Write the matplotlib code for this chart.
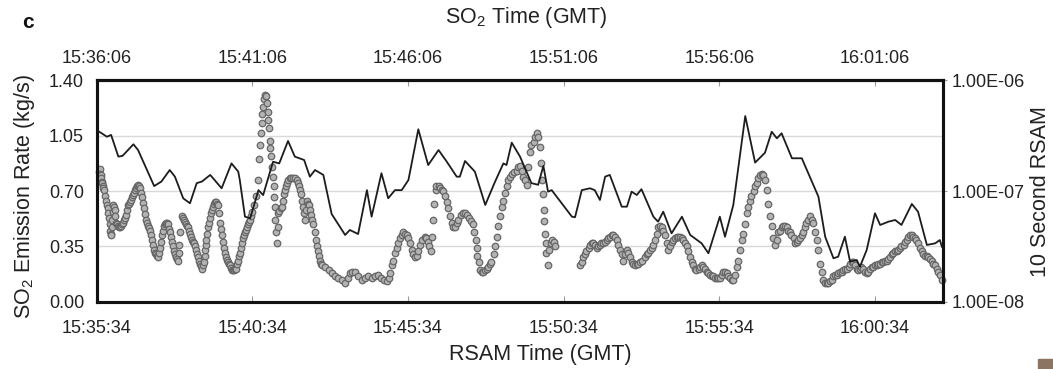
import matplotlib
matplotlib.use("Agg")
import matplotlib.pyplot as plt
from matplotlib.patches import Rectangle
from matplotlib.ticker import NullLocator

plt.rcParams['font.family'] = ['Liberation Sans', 'DejaVu Sans']
plt.rcParams['mathtext.fontset'] = 'custom'
plt.rcParams['mathtext.rm'] = 'Liberation Sans'
plt.rcParams['mathtext.it'] = 'Liberation Sans:italic'

# x axis: seconds after the left edge (RSAM clock 15:35:34, SO2 clock 15:36:06)
tick_sec = [0, 300, 600, 900, 1200, 1500]
rsam_tick_labels = ['15:35:34', '15:40:34', '15:45:34', '15:50:34', '15:55:34', '16:00:34']
so2_tick_labels = ['15:36:06', '15:41:06', '15:46:06', '15:51:06', '15:56:06', '16:01:06']
x_end = 1631

so2_yticks = [0.0, 0.35, 0.70, 1.05, 1.40]
so2_ytick_labels = ['0.00', '0.35', '0.70', '1.05', '1.40']
rsam_yticks = [1e-8, 1e-7, 1e-6]
rsam_ytick_labels = ['1.00E-08', '1.00E-07', '1.00E-06']

# 10 second RSAM (seconds after 15:35:34)
rsam_time = [0, 20, 28, 42, 50, 71, 80, 111, 125, 141, 151, 167, 180, 193, 203, 219,
             241, 260, 273, 276, 286, 296, 312, 321, 340, 352, 369, 382, 400, 411,
             421, 437, 453, 479, 488, 504, 521, 530, 549, 562, 575, 588, 601, 620,
             639, 659, 675, 694, 700, 710, 729, 749, 768, 784, 790, 800, 816, 838,
             851, 861, 870, 877, 916, 922, 935, 951, 960, 970, 980, 989, 1012, 1022,
             1031, 1041, 1050, 1073, 1082, 1092, 1108, 1128, 1144, 1166, 1179, 1201,
             1211, 1227, 1250, 1269, 1288, 1301, 1311, 1320, 1340, 1359, 1391, 1404,
             1420, 1429, 1442, 1452, 1465, 1471, 1484, 1500, 1510, 1526, 1539, 1551,
             1571, 1583, 1600, 1616, 1625, 1629]
rsam_value = [3.57e-7, 3.10e-7, 3.22e-7, 2.05e-7, 2.08e-7, 2.65e-7, 2.35e-7, 1.11e-7,
              1.22e-7, 1.55e-7, 1.35e-7, 8.6e-8, 7.76e-8, 1.18e-7, 1.22e-7, 1.40e-7,
              1.06e-7, 1.78e-7, 1.50e-7, 1.26e-7, 5.87e-8, 5.68e-8, 1.02e-7, 9.2e-8,
              1.84e-7, 1.78e-7, 2.84e-7, 2.05e-7, 1.91e-7, 1.35e-7, 1.55e-7, 1.40e-7,
              6.21e-8, 4.01e-8, 4.45e-8, 4.09e-8, 1.02e-7, 5.87e-8, 1.45e-7, 8.61e-8,
              1.02e-7, 1.02e-7, 1.26e-7, 3.62e-7, 1.72e-7, 2.35e-7, 1.84e-7, 1.35e-7,
              1.35e-7, 1.87e-7, 1.50e-7, 7.49e-8, 1.22e-7, 1.78e-7, 1.72e-7, 2.74e-7,
              2.05e-7, 1.18e-7, 1.14e-7, 1.69e-7, 9.88e-8, 1.02e-7, 5.87e-8, 5.80e-8,
              1.02e-7, 1.06e-7, 1.02e-7, 8.31e-8, 1.35e-7, 1.40e-7, 7.23e-8, 7.23e-8,
              9.88e-8, 9.22e-8, 1.04e-7, 5.87e-8, 5.29e-8, 6.51e-8, 4.15e-8, 5.87e-8,
              4.01e-8, 3.37e-8, 2.74e-8, 5.87e-8, 3.87e-8, 7.49e-8, 4.77e-7, 1.81e-7,
              2.22e-7, 3.44e-7, 3.00e-7, 3.33e-7, 1.98e-7, 1.98e-7, 8.90e-8, 3.87e-8,
              2.47e-8, 2.55e-8, 3.87e-8, 2.30e-8, 2.38e-8, 2.07e-8, 2.93e-8, 6.30e-8,
              4.94e-8, 5.29e-8, 5.48e-8, 4.94e-8, 7.65e-8, 6.51e-8, 3.26e-8, 3.37e-8,
              3.61e-8, 3.14e-8]

# SO2 emission rate (seconds after 15:36:06, kg/s)
so2_time = [5, 6, 7, 8, 9, 10, 11, 12, 13, 14, 16, 18, 20, 22, 23, 24, 25, 26, 27, 28,
            29, 30, 31, 32, 34, 35, 36, 37, 39, 41, 43, 45, 47, 49, 51, 53, 55, 57, 59,
            61, 63, 64, 66, 68, 70, 72, 74, 76, 78, 80, 82, 84, 86, 87, 89, 91, 93, 95,
            97, 99, 101, 103, 105, 107, 109, 111, 113, 114, 116, 118, 120, 122, 124,
            126, 128, 130, 132, 134, 136, 138, 140, 141, 143, 145, 147, 149, 151, 153,
            155, 157, 158, 159, 161, 165, 167, 168, 170, 172, 174, 176, 178, 180, 182,
            184, 186, 188, 190, 192, 194, 195, 197, 199, 201, 203, 205, 207, 208, 209,
            210, 211, 213, 215, 217, 219, 221, 222, 224, 226, 228, 230, 232, 234, 236,
            238, 240, 242, 244, 246, 248, 249, 251, 253, 255, 257, 259, 261, 263, 265,
            267, 269, 271, 272, 274, 276, 278, 280, 282, 284, 286, 288, 290, 292, 294,
            296, 298, 300,
            303, 307, 311, 313, 315, 317, 318, 319, 321, 323, 325, 327, 329, 330, 331,
            332, 334, 335, 337, 339, 340, 341, 342, 343, 344, 345, 347,
            349, 350, 352, 355, 357, 359, 361, 363, 365, 367, 369, 372, 375, 379, 382,
            386, 388, 390, 392, 394, 396, 398, 400, 402, 404, 406, 408, 409, 411, 413,
            415, 418, 420, 422, 424, 426, 428, 430, 433,
            435, 440, 447, 453, 459, 466, 472, 479, 484, 488, 493, 498, 504, 511, 517,
            524, 530, 537, 543, 549, 554, 559, 563, 565, 569, 572, 575, 578, 581, 585,
            588, 591, 594, 598, 601, 604, 607, 610, 614, 617, 620, 623, 627, 632, 635,
            638, 641, 644, 647, 649, 651, 654, 655, 659, 662, 665, 668, 671, 675, 678,
            681, 684, 687, 691, 694, 697, 702, 706, 710, 714, 718, 722, 726, 728, 731,
            733, 734, 737, 739, 742, 745, 749, 752, 755, 758, 761, 765, 768, 771, 774,
            777, 781, 784, 787, 790, 793, 797, 800, 804, 810, 813, 816, 819, 822, 826,
            829, 832, 835, 838, 842, 845, 848, 851, 854, 856, 859, 861, 862, 863, 864,
            866, 867, 869, 872, 875, 878, 881, 883,
            931, 935, 938, 941, 944, 948, 951, 954, 957, 960, 964, 967, 970, 973, 976,
            980, 983, 986, 989, 993, 996, 999, 1002, 1005, 1009, 1012, 1015, 1018, 1022,
            1025, 1028, 1031, 1034, 1038, 1041, 1044, 1047, 1052, 1056, 1060, 1063,
            1066, 1070, 1073, 1076, 1079, 1082, 1086, 1089, 1092, 1095, 1099, 1102,
            1105, 1108, 1111, 1115, 1118, 1121, 1124, 1128, 1131, 1134, 1137, 1140,
            1143, 1147, 1150, 1153, 1156, 1160, 1163, 1166, 1169, 1172, 1176, 1179,
            1182, 1185, 1188, 1192, 1195, 1198, 1201, 1205, 1208, 1211, 1214, 1217,
            1221, 1224, 1227, 1230, 1234, 1237, 1240, 1243, 1246, 1250, 1253, 1256,
            1259, 1262, 1266, 1269, 1272, 1275, 1278, 1282, 1285, 1288, 1291, 1294,
            1298, 1301, 1304, 1307, 1311, 1314, 1317, 1320, 1323, 1327, 1330, 1333,
            1336, 1339, 1343, 1346, 1349, 1352, 1355, 1359, 1362, 1365, 1368, 1371,
            1375, 1378, 1381, 1384, 1388, 1391, 1394, 1397, 1400, 1404, 1407, 1410,
            1413, 1417, 1420, 1423, 1426, 1429, 1433, 1436, 1439, 1442, 1446, 1449,
            1452, 1455, 1458, 1462, 1465, 1468, 1471, 1474, 1477, 1481, 1484, 1487,
            1490, 1494, 1497, 1500, 1503, 1506, 1510, 1513, 1516, 1519, 1523, 1526,
            1529, 1532, 1535, 1539, 1542, 1545, 1548, 1551, 1555, 1558, 1561, 1564,
            1567, 1571, 1574, 1577, 1580, 1583, 1587, 1590, 1593, 1596, 1600, 1603,
            1606, 1609, 1612, 1616, 1619, 1622, 1625, 1629]
so2_rate = [0.82, 0.84, 0.81, 0.80, 0.78, 0.76, 0.75, 0.73, 0.72, 0.71, 0.67, 0.64, 0.61,
            0.59, 0.56, 0.53, 0.49, 0.45, 0.43, 0.42, 0.47, 0.52, 0.57, 0.61, 0.60, 0.58,
            0.54, 0.50, 0.49, 0.48, 0.47, 0.47, 0.48, 0.49, 0.50, 0.52, 0.53, 0.55, 0.58,
            0.61, 0.62, 0.63, 0.645, 0.66, 0.675, 0.69, 0.705, 0.72, 0.73, 0.74, 0.735,
            0.72, 0.69, 0.66, 0.625, 0.59, 0.555, 0.52, 0.50, 0.48, 0.465, 0.45, 0.42,
            0.39, 0.36, 0.33, 0.31, 0.30, 0.29, 0.28, 0.31, 0.34, 0.38, 0.42, 0.45, 0.48,
            0.49, 0.50, 0.495, 0.49, 0.46, 0.44, 0.41, 0.38, 0.35, 0.32, 0.30, 0.28, 0.27,
            0.26, 0.31, 0.36, 0.44, 0.54, 0.53, 0.52, 0.505, 0.49, 0.48, 0.47, 0.45, 0.43,
            0.41, 0.39, 0.38, 0.37, 0.35, 0.33, 0.30, 0.28, 0.26, 0.24, 0.225, 0.21, 0.23,
            0.25, 0.29, 0.33, 0.36, 0.39, 0.43, 0.47, 0.50, 0.53, 0.56, 0.58, 0.60, 0.62,
            0.63, 0.63, 0.62, 0.61, 0.56, 0.50, 0.46, 0.42, 0.38, 0.34, 0.31, 0.28, 0.265,
            0.25, 0.24, 0.23, 0.215, 0.20, 0.20, 0.20, 0.205, 0.21, 0.24, 0.26, 0.29,
            0.31, 0.34, 0.37, 0.40, 0.42, 0.44, 0.455, 0.47, 0.49, 0.505, 0.52, 0.545,
            0.57,
            0.61, 0.67, 0.77, 0.90, 0.99, 1.07, 1.13, 1.19, 1.23, 1.28, 1.31, 1.30, 1.26,
            1.20, 1.15, 1.10, 1.02, 0.97, 0.92, 0.85, 0.79, 0.73, 0.66, 0.60, 0.52, 0.44,
            0.37,
            0.47, 0.56, 0.575, 0.59, 0.60, 0.64, 0.68, 0.71, 0.73, 0.75, 0.77, 0.78, 0.78,
            0.78, 0.78, 0.77, 0.75, 0.73, 0.71, 0.68, 0.64, 0.60, 0.56, 0.52, 0.58, 0.64,
            0.62, 0.61, 0.58, 0.55, 0.52, 0.49, 0.44, 0.39, 0.35, 0.32, 0.29, 0.26, 0.24,
            0.23, 0.22, 0.20, 0.18, 0.16, 0.15, 0.14, 0.12, 0.15, 0.18, 0.19,
            0.19, 0.16, 0.14, 0.15, 0.16, 0.15, 0.16, 0.17, 0.15, 0.14, 0.13, 0.15, 0.18,
            0.23, 0.26, 0.31, 0.34, 0.37, 0.40, 0.42, 0.44, 0.43, 0.42, 0.40, 0.37, 0.33,
            0.30, 0.28, 0.29, 0.32, 0.36, 0.39, 0.41, 0.40, 0.38, 0.35, 0.32, 0.41, 0.52,
            0.62, 0.71, 0.73, 0.73, 0.72, 0.71, 0.70, 0.67, 0.63, 0.59, 0.54, 0.50, 0.47,
            0.47, 0.50, 0.52, 0.55, 0.56, 0.56, 0.55, 0.53, 0.51, 0.49, 0.44, 0.39, 0.34,
            0.29, 0.25, 0.20, 0.19, 0.19, 0.20, 0.21, 0.22, 0.24, 0.25, 0.30, 0.35, 0.41,
            0.48, 0.54, 0.60, 0.64, 0.69, 0.73, 0.77, 0.79, 0.81, 0.82, 0.83, 0.85, 0.86,
            0.83, 0.79, 0.77, 0.74, 0.85, 0.95, 0.99, 1.01, 1.04, 1.07, 1.04, 0.98, 0.88,
            0.77, 0.68, 0.58, 0.51, 0.43, 0.37, 0.31, 0.23, 0.33, 0.37, 0.39, 0.38, 0.35,
            0.23, 0.25, 0.28, 0.30, 0.32, 0.34, 0.36, 0.37, 0.37, 0.36, 0.34, 0.35, 0.36,
            0.37, 0.37, 0.38, 0.39, 0.40, 0.41, 0.42, 0.42, 0.41, 0.39, 0.36, 0.33, 0.30,
            0.26, 0.30, 0.33, 0.31, 0.28, 0.25, 0.24, 0.23, 0.24, 0.24, 0.25, 0.26, 0.28,
            0.30, 0.31, 0.33, 0.34, 0.36, 0.39, 0.43, 0.47, 0.48, 0.47, 0.45, 0.42, 0.37,
            0.33, 0.35, 0.38, 0.39, 0.40, 0.41, 0.41, 0.41, 0.40, 0.39, 0.37, 0.35, 0.32,
            0.28, 0.25, 0.23, 0.21, 0.20, 0.21, 0.22, 0.23, 0.22, 0.21, 0.19, 0.18, 0.17,
            0.16, 0.16, 0.15, 0.15, 0.15, 0.15, 0.17, 0.19, 0.19, 0.18, 0.16, 0.15, 0.14,
            0.14, 0.17, 0.22, 0.26, 0.33, 0.39, 0.43, 0.49, 0.56, 0.60, 0.64, 0.67, 0.70,
            0.73, 0.75, 0.78, 0.80, 0.81, 0.80, 0.77, 0.71, 0.62, 0.54, 0.48, 0.40, 0.36,
            0.39, 0.44, 0.45, 0.47, 0.48, 0.48, 0.47, 0.45, 0.44, 0.42, 0.40, 0.37, 0.38,
            0.39, 0.40, 0.42, 0.44, 0.47, 0.50, 0.52, 0.54, 0.52, 0.50, 0.44, 0.39, 0.33,
            0.24, 0.19, 0.14, 0.12, 0.12, 0.12, 0.13, 0.14, 0.16, 0.17, 0.17, 0.18, 0.19,
            0.19, 0.20, 0.21, 0.21, 0.22, 0.24, 0.25, 0.25, 0.23, 0.21, 0.20, 0.21, 0.22,
            0.21, 0.19, 0.18, 0.19, 0.21, 0.22, 0.22, 0.23, 0.23, 0.24, 0.24, 0.25, 0.25,
            0.26, 0.26, 0.27, 0.28, 0.30, 0.31, 0.32, 0.32, 0.33, 0.34, 0.35, 0.36, 0.38,
            0.39, 0.41, 0.42, 0.42, 0.41, 0.40, 0.39, 0.37, 0.34, 0.32, 0.30, 0.29, 0.29,
            0.28, 0.27, 0.26, 0.24, 0.23, 0.21, 0.19, 0.17, 0.14]

fig = plt.figure(figsize=(10.53, 3.69), dpi=100)
ax = fig.add_axes([0.0917, 0.1824, 0.8038, 0.5995])

# SO2 as grey rings
ax.scatter(so2_time, so2_rate, s=22, facecolor='#b3b3b3', edgecolor='#666666',
           linewidth=0.9, zorder=3, clip_on=False)
ax.set_xlim(0, x_end)
ax.set_ylim(0, 1.4)
ax.set_yticks(so2_yticks, so2_ytick_labels)
ax.yaxis.grid(True, color='#d9d9d9', lw=1)
ax.set_axisbelow(True)
ax.set_xticks(tick_sec, rsam_tick_labels)
ax.tick_params(axis='x', direction='in', length=4, color='#9a9a9a', labelsize=13,
               pad=13, labelcolor='#222222')
ax.tick_params(axis='y', direction='in', length=0, labelsize=13, pad=9,
               labelcolor='#222222')

# top axis shows SO2 clock
top = ax.secondary_xaxis('top')
top.set_xticks(tick_sec, so2_tick_labels)
top.tick_params(direction='in', length=4, color='#9a9a9a', labelsize=13, pad=10,
                labelcolor='#222222')

# RSAM on log scale
ax2 = ax.twinx()
ax2.plot(rsam_time, rsam_value, color='#1c1c1c', lw=1.3, zorder=4)
ax2.set_yscale('log')
ax2.set_ylim(1e-8, 1e-6)
ax2.set_xlim(0, x_end)
ax2.set_yticks(rsam_yticks, rsam_ytick_labels)
ax2.yaxis.set_minor_locator(NullLocator())
ax2.tick_params(axis='y', direction='out', length=3, color='#9a9a9a', labelsize=13,
                pad=3, labelcolor='#222222')

for a in (ax, ax2):
    for sp in a.spines.values():
        sp.set_linewidth(2.2)
        sp.set_color('#111111')
top.spines['top'].set_linewidth(2.2)

fig.text(0.0237, 0.469, 'SO$_2$ Emission Rate (kg/s)', rotation=90, ha='center',
         va='center', fontsize=15.5, color='#222222')
fig.text(0.9877, 0.48, '10 Second RSAM', rotation=90, ha='center', va='center',
         fontsize=15.5, color='#222222')
fig.text(0.513, 0.038, 'RSAM Time (GMT)', ha='center', va='center', fontsize=15.5,
         color='#222222')
fig.text(0.50, 0.952, 'SO$_2$ Time (GMT)', ha='center', va='center', fontsize=15.5,
         color='#222222')
fig.text(0.027, 0.94, 'c', ha='center', va='center', fontsize=15, fontweight='bold',
         color='#111111')

# small brown mark in the bottom right corner of the original
fig.patches.append(Rectangle((1038 / 1053, 0), 15 / 1053, 10 / 369,
                             transform=fig.transFigure, color='#8c7462'))

fig.savefig('out.png', dpi=100)
